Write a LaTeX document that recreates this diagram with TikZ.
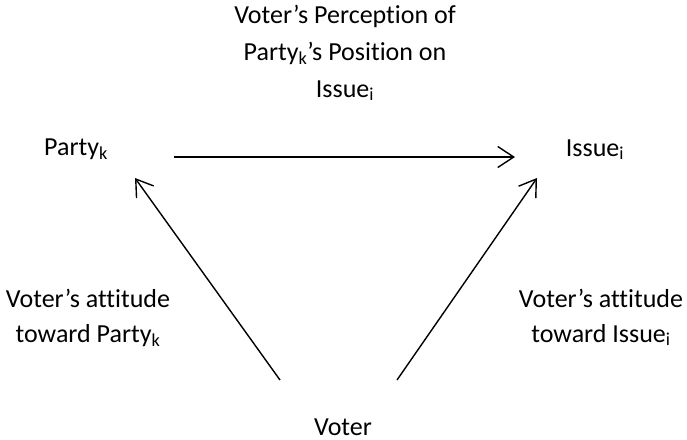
\documentclass[tikz,border=0pt]{standalone}
\usepackage{fontspec}
\setmainfont{Carlito}[Ligatures=NoCommon]
\usetikzlibrary{arrows.meta}
\newcommand{\sbk}[1]{\textsubscript{#1}}
\begin{document}
\begin{tikzpicture}[x=1pt,y=-1pt,
  lbl/.style={font=\fontsize{26}{35}\selectfont, align=center, inner sep=0pt, text=black, anchor=base},
  conn/.style={line width=1.4pt, -{Straight Barb[length=16pt,width=21pt,line width=1.4pt]}}]
\useasboundingbox (0,0) rectangle (687,439);
\node[lbl, font=\fontsize{26}{37}\selectfont] (title) at (345,97) {Voter’s Perception of\\Party\sbk{k}’s Position on\\Issue\sbk{i}};
\node[lbl] (party) at (76,155) {Party\sbk{k}};
\node[lbl] (issue) at (595,156) {Issue\sbk{i}};
\node[lbl] (voter) at (343,435) {Voter};
\node[lbl] (lattr) at (88,342) {Voter’s attitude\\toward Party\sbk{k}};
\node[lbl] (rattr) at (601,342) {Voter’s attitude\\toward Issue\sbk{i}};
\coordinate (h1) at (174,157);
\coordinate (h2) at (515,157);
\coordinate (l1) at (280,380);
\coordinate (l2) at (135,178);
\coordinate (r1) at (397,380);
\coordinate (r2) at (537,178);
\draw[conn] (h1) -- (h2);
\draw[conn] (l1) -- (l2);
\draw[conn] (r1) -- (r2);
\end{tikzpicture}
\end{document}
